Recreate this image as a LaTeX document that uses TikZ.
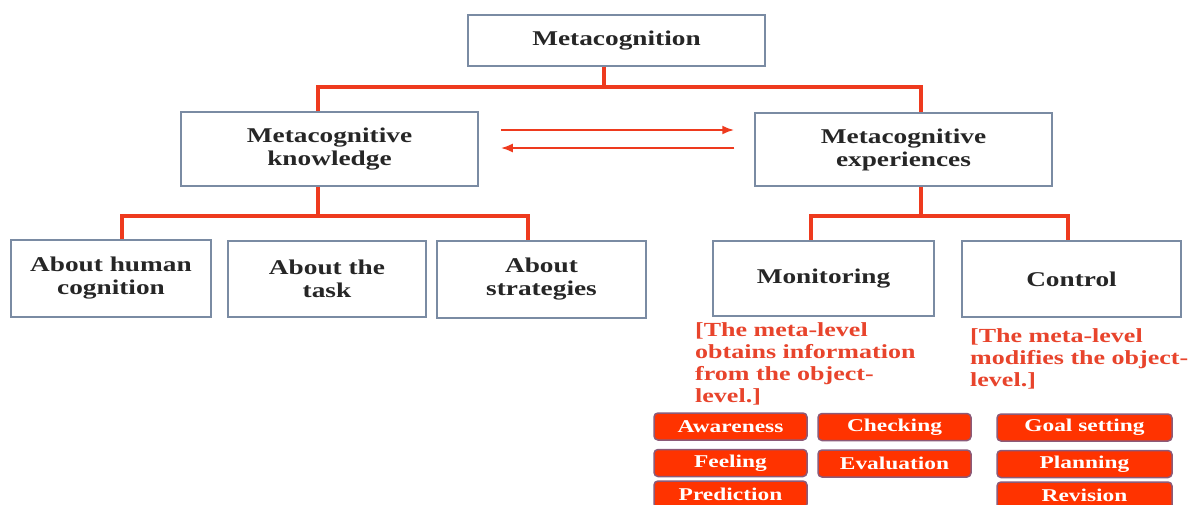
\documentclass[tikz,border=0pt]{standalone}
\usepackage{fontspec}
\setmainfont{Liberation Serif}[FakeStretch=1.3]
\usepackage{tikz}
\usetikzlibrary{positioning,arrows.meta}
\definecolor{BoxLine}{HTML}{7A8BA3}
\definecolor{TreeRed}{HTML}{EE3A1E}
\definecolor{NoteRed}{HTML}{E8442C}
\definecolor{TagFill}{HTML}{FF3300}
\definecolor{TagLine}{HTML}{8C5A78}
\tikzstyle{box} = [draw=BoxLine,line width=1.5pt,align=center,font=\fontsize{21}{23}\selectfont\bfseries,text=black!85]
\tikzstyle{conn} = [draw=TreeRed,line width=4pt]
\tikzstyle{flow} = [draw=TreeRed,line width=2.2pt,-{Latex[length=12pt,width=9pt]}]
\tikzstyle{note} = [anchor=north west,align=left,inner sep=0pt,text=NoteRed,font=\fontsize{20}{22.3}\selectfont\bfseries]
\tikzstyle{tag} = [fill=TagFill,draw=TagLine,line width=1.5pt,rounded corners=4pt,minimum height=27pt,text=white,font=\fontsize{18}{20}\selectfont\bfseries]
\begin{document}
\begin{tikzpicture}[x=1pt,y=-1pt]
	\useasboundingbox (0,0) rectangle (1194,504);
	\clip (0,0) rectangle (1194,504);
	\fill[white] (0,0) rectangle (1194,504);

	\node[box,minimum width=297pt,minimum height=51pt] (meta) at (616.5,40.5) {\raisebox{-1pt}{Metacognition}};
	\node[box,minimum width=297pt,minimum height=74pt] (know) at (329.5,149) {Metacognitive\\knowledge};
	\node[box,minimum width=297pt,minimum height=73pt] (exper) at (903.5,149.5) {Metacognitive\\experiences};

	\node[box,minimum width=200pt,minimum height=77pt] (human) at (111,278.5) {About human\\cognition};
	\node[box,minimum width=198pt,minimum height=76pt] (task) at (327,279) {About the\\task};
	\node[box,minimum width=209pt,minimum height=77pt] (strat) at (541.5,279.5) {About\\strategies};
	\node[box,minimum width=221pt,minimum height=75pt] (mon) at (823.5,278.5) {\raisebox{-3pt}{Monitoring}};
	\node[box,minimum width=219pt,minimum height=76pt] (ctrl) at (1071.5,279) {Control};

	\node[note] (monnote) at (695,322) {[The meta-level\\obtains information\\from the object-\\level.]};
	\node[note] (ctrlnote) at (970,328) {[The meta-level\\modifies the object-\\level.]};

	\node[tag,minimum width=153pt] (aware) at (730.5,426.5) {Awareness};
	\node[tag,minimum width=153pt,below=8pt of aware] (feel) {Feeling};
	\node[tag,minimum width=153pt,below=3pt of feel] (pred) {Prediction};
	\node[tag,minimum width=153pt] (check) at (894.5,427) {Checking};
	\node[tag,minimum width=153pt,below=8pt of check] (eval) {Evaluation};
	\node[tag,minimum width=175pt] (goal) at (1084.5,427.5) {Goal setting};
	\node[tag,minimum width=175pt,below=8pt of goal] (plan) {Planning};
	\node[tag,minimum width=175pt,below=3pt of plan] (rev) {Revision};

	\coordinate (j0) at (604,87);
	\draw[conn] (meta.south -| j0) -- (j0);
	\draw[conn] ([xshift=-11.5]know.north) |- (j0) -| ([xshift=17.5]exper.north);

	\coordinate (j1) at (318,216);
	\draw[conn] (know.south -| j1) -- (j1);
	\draw[conn] ([xshift=11]human.north) |- (j1) -| ([xshift=-13.5]strat.north);

	\coordinate (j2) at (921,216);
	\draw[conn] (exper.south -| j2) -- (j2);
	\draw[conn] ([xshift=-12.5]mon.north) |- (j2) -| ([xshift=-3.5]ctrl.north);

	\draw[flow,shorten <=22pt,shorten >=20pt] ([yshift=19pt]know.east) -- ([yshift=19pt]know.east -| exper.west);
	\draw[flow,shorten <=20pt,shorten >=22pt] ([yshift=1pt]know.east -| exper.west) -- ([yshift=1pt]know.east);
\end{tikzpicture}
\end{document}
